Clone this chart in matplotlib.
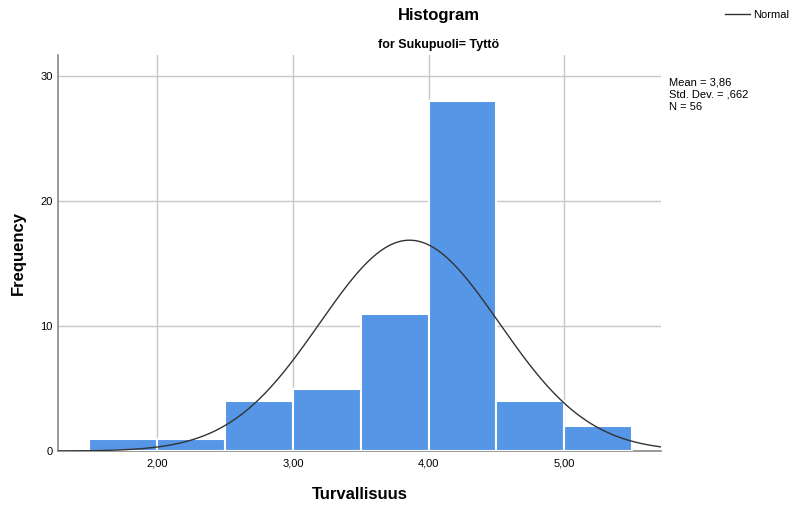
import numpy as np
import matplotlib.pyplot as plt
from matplotlib.lines import Line2D

plt.rcParams['font.family'] = ['Liberation Sans', 'DejaVu Sans']

# histogram data
bin_edges = [1.5, 2.0, 2.5, 3.0, 3.5, 4.0, 4.5, 5.0, 5.5]
counts = [1, 1, 4, 5, 11, 28, 4, 2]
x_ticks = [2, 3, 4, 5]
x_labels = ['2,00', '3,00', '4,00', '5,00']
y_ticks = [0, 10, 20, 30]

mean = 3.86
sd = 0.662
n = 56

fig = plt.figure(figsize=(7.95, 5.08), dpi=100)
ax = fig.add_axes([0.073, 0.112, 0.758, 0.780])

width = bin_edges[1] - bin_edges[0]
ax.bar(bin_edges[:-1], counts, width=width, align='edge',
       color='#5596e6', edgecolor='white', linewidth=1.5, zorder=3)

# fitted normal curve
xs = np.linspace(1.27, 5.71, 400)
ys = n * width / (sd * np.sqrt(2 * np.pi)) * np.exp(-0.5 * ((xs - mean) / sd) ** 2)
ax.plot(xs, ys, color='#333333', linewidth=1.0, zorder=4)

ax.set_xlim(1.27, 5.71)
ax.set_ylim(0, 31.7)
ax.set_xticks(x_ticks)
ax.set_xticklabels(x_labels, fontsize=8)
ax.set_yticks(y_ticks)
ax.set_yticklabels([str(t) for t in y_ticks], fontsize=8)
ax.tick_params(axis='x', length=0, pad=5)
ax.tick_params(axis='y', length=0, pad=4)
ax.grid(True, color='#c8c8c8', linewidth=1.0, zorder=0)

for s in ['top', 'right']:
    ax.spines[s].set_visible(False)
for s in ['left', 'bottom']:
    ax.spines[s].set_color('#888888')
    ax.spines[s].set_linewidth(1.2)

ax.set_xlabel('Turvallisuus', fontsize=12, fontweight='bold', labelpad=14)
ax.set_ylabel('Frequency', fontsize=12, fontweight='bold', labelpad=10)

fig.text(0.552, 0.97, 'Histogram', ha='center', va='center', fontsize=12, fontweight='bold')
fig.text(0.552, 0.912, 'for Sukupuoli= Tyttö', ha='center', va='center', fontsize=9, fontweight='bold')

fig.text(0.842, 0.813, 'Mean = 3,86\nStd. Dev. = ,662\nN = 56', ha='left', va='center',
         fontsize=8, linespacing=1.25)

handle = Line2D([], [], color='#333333', linewidth=1.0)
fig.legend([handle], ['Normal'], loc='upper right', bbox_to_anchor=(1.005, 1.0),
           frameon=False, fontsize=8, handlelength=2.2, handletextpad=0.3)

fig.savefig('out.png', dpi=100)
